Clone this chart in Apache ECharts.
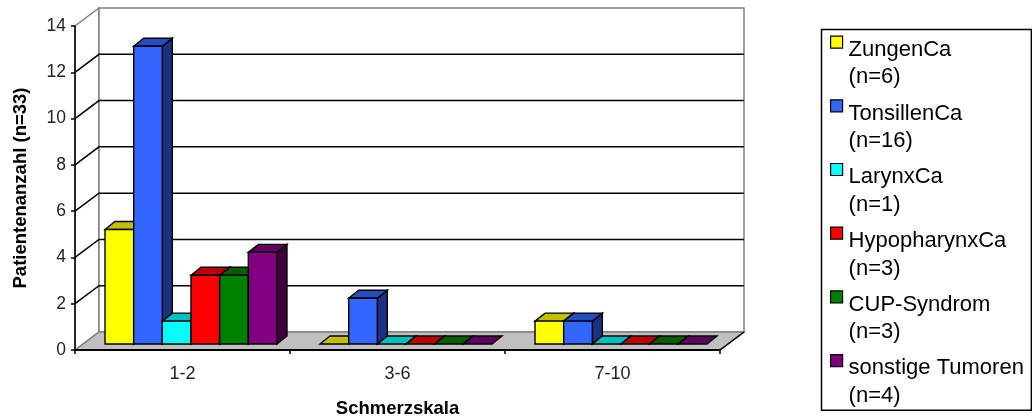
<!DOCTYPE html>
<html>
<head>
<meta charset="utf-8">
<style>
  html, body { margin: 0; padding: 0; background: #fff; }
  #main { width: 1032px; height: 418px; }
</style>
<script src="https://cdn.jsdelivr.net/npm/echarts@6/dist/echarts.min.js"></script>
</head>
<body>
<div id="main"></div>
<script>
const categories = ["1-2", "3-6", "7-10"];
const yTicks = [0, 2, 4, 6, 8, 10, 12, 14];
const seriesNames = ["ZungenCa", "TonsillenCa", "LarynxCa", "HypopharynxCa", "CUP-Syndrom", "sonstige Tumoren"];
const seriesCounts = [6, 16, 1, 3, 3, 4];
const zungenCa = [5, 0, 1];
const tonsillenCa = [13, 2, 1];
const larynxCa = [1, 0, 0];
const hypopharynxCa = [3, 0, 0];
const cupSyndrom = [3, 0, 0];
const sonstige = [4, 0, 0];
const seriesValues = [zungenCa, tonsillenCa, larynxCa, hypopharynxCa, cupSyndrom, sonstige];
const frontColors = ["#ffff00", "#3366ff", "#00ffff", "#ff0000", "#008000", "#800080"];
const topColors = ["#c0c000", "#264cbf", "#00c0c0", "#c00000", "#006000", "#600060"];
const sideColors = ["#808000", "#1a3380", "#008080", "#800000", "#004000", "#400040"];

const fontName = "Liberation Sans";
const wallDx = 24; // Tiefe der Rueckwand
const wallDy = -18;
const barDx = 10; // Tiefe der Balken
const barDy = -8;
const barShare = 0.1333; // Balkenbreite / Kategorie

function poly(points, fill, stroke, width) {
  return {
    type: "polygon",
    shape: { points: points },
    style: { fill: fill, stroke: stroke, lineWidth: width, lineJoin: "miter" },
  };
}

// Rueckwand, Boden und Seitenwand
function renderWalls(params, api) {
  const c = params.coordSys;
  const l = c.x, r = c.x + c.width, t = c.y, b = c.y + c.height;
  return {
    type: "group",
    children: [
      poly([[l, t], [l + wallDx, t + wallDy], [l + wallDx, b + wallDy], [l, b]], "#ffffff", "#808080", 1.5),
      poly([[l + wallDx, t + wallDy], [r + wallDx, t + wallDy], [r + wallDx, b + wallDy], [l + wallDx, b + wallDy]], "#ffffff", "#808080", 1.5),
      poly([[l, b], [l + wallDx, b + wallDy], [r + wallDx, b + wallDy], [r, b]], "#c0c0c0", "#808080", 1.5),
      { type: "line", shape: { x1: r, y1: b, x2: r + wallDx, y2: b + wallDy }, style: { stroke: "#000", lineWidth: 1.5 } },
    ],
  };
}

function renderGrid(params, api) {
  const c = params.coordSys;
  const y = api.coord([0, api.value(1)])[1];
  const tick = api.value(1);
  if (tick === 0 || tick === 14) {
    return null;
  }
  return {
    type: "polyline",
    shape: { points: [[c.x, y], [c.x + wallDx, y + wallDy], [c.x + c.width + wallDx, y + wallDy]] },
    style: { fill: null, stroke: "#000", lineWidth: 1.5 },
  };
}

function makeBarRender(index) {
  return function (params, api) {
    const cat = api.value(0);
    const p0 = api.coord([cat, 0]);
    const p1 = api.coord([cat, api.value(1)]);
    const band = api.size([1, 0])[0];
    const w = band * barShare;
    const x = p0[0] + (index - 3) * w;
    const y0 = p0[1], y1 = p1[1];
    const children = [];
    if (y0 !== y1) {
      children.push(poly([[x + w, y1], [x + w + barDx, y1 + barDy], [x + w + barDx, y0 + barDy], [x + w, y0]], sideColors[index], "#000", 1.4));
    }
    children.push(poly([[x, y1], [x + barDx, y1 + barDy], [x + w + barDx, y1 + barDy], [x + w, y1]], topColors[index], "#000", 1.4));
    if (y0 !== y1) {
      children.push(poly([[x, y1], [x + w, y1], [x + w, y0], [x, y0]], frontColors[index], "#000", 1.4));
    }
    return { type: "group", children: children };
  };
}

const series = [
  {
    type: "custom",
    xAxisIndex: 0,
    yAxisIndex: 0,
    silent: true,
    z: 1,
    renderItem: renderWalls,
    data: [[0, 0]],
  },
  {
    type: "custom",
    xAxisIndex: 0,
    yAxisIndex: 0,
    silent: true,
    z: 1,
    renderItem: renderGrid,
    data: yTicks.map((t) => [0, t]),
  },
];
seriesNames.forEach((name, i) => {
  series.push({
    name: name,
    type: "custom",
    xAxisIndex: 1,
    yAxisIndex: 1,
    z: 2,
    itemStyle: { color: frontColors[i] },
    renderItem: makeBarRender(i),
    data: seriesValues[i].map((v, k) => [k, v]),
  });
});

const chart = echarts.init(document.getElementById("main"), null, { renderer: "canvas" });
chart.setOption({
  animation: false,
  backgroundColor: "#ffffff",
  textStyle: { fontFamily: fontName, color: "#000" },
  legend: {
    left: 821.5,
    top: 29.5,
    orient: "vertical",
    height: 384,
    selectedMode: false,
    data: seriesNames,
    icon: "path://M0 0H12V12H0ZM0 55H0",
    itemWidth: 12,
    itemHeight: 55,
    itemGap: 7.5,
    padding: [6, 7.5, 0, 8.5],
    backgroundColor: "#ffffff",
    borderColor: "#000",
    borderWidth: 1.5,
    borderRadius: 0,
    itemStyle: { borderColor: "#000", borderWidth: 1.2 },
    formatter: (name) => name + "\n(n=" + seriesCounts[seriesNames.indexOf(name)] + ")",
    textStyle: { fontFamily: fontName, fontSize: 22, lineHeight: 27.5, color: "#000", padding: [0, 0, 0, 1] },
  },
  grid: [
    { left: 75, right: 312, top: 26, bottom: 68, outerBoundsMode: "none" },
    { left: 83.5, right: 303.5, top: 23.4, bottom: 74, outerBoundsMode: "none" },
  ],
  xAxis: [
    {
      type: "category",
      data: categories,
      z: 3,
      name: "Schmerzskala",
      nameLocation: "middle",
      nameGap: 49,
      nameTextStyle: { fontFamily: fontName, fontSize: 18.5, fontWeight: "bold", color: "#000" },
      axisLine: { lineStyle: { color: "#000", width: 2 } },
      axisTick: { show: true, length: 4, lineStyle: { color: "#000", width: 1.5 } },
      axisLabel: { fontFamily: fontName, fontSize: 18, color: "#222", margin: 15 },
    },
    { type: "category", data: categories, gridIndex: 1, show: false },
  ],
  yAxis: [
    {
      type: "value",
      min: 0,
      max: 14,
      interval: 2,
      z: 3,
      name: "Patientenanzahl (n=33)",
      nameLocation: "middle",
      nameGap: 45,
      nameTextStyle: { fontFamily: fontName, fontSize: 18.5, fontWeight: "bold", color: "#000" },
      axisLine: { show: true, lineStyle: { color: "#000", width: 1.5 } },
      axisTick: { show: true, length: 4, lineStyle: { color: "#000", width: 1.5 } },
      axisLabel: { fontFamily: fontName, fontSize: 17.5, color: "#222", margin: 9 },
      splitLine: { show: false },
    },
    { type: "value", min: 0, max: 14, interval: 2, gridIndex: 1, show: false, splitLine: { show: false } },
  ],
  series: series,
});
</script>
</body>
</html>
